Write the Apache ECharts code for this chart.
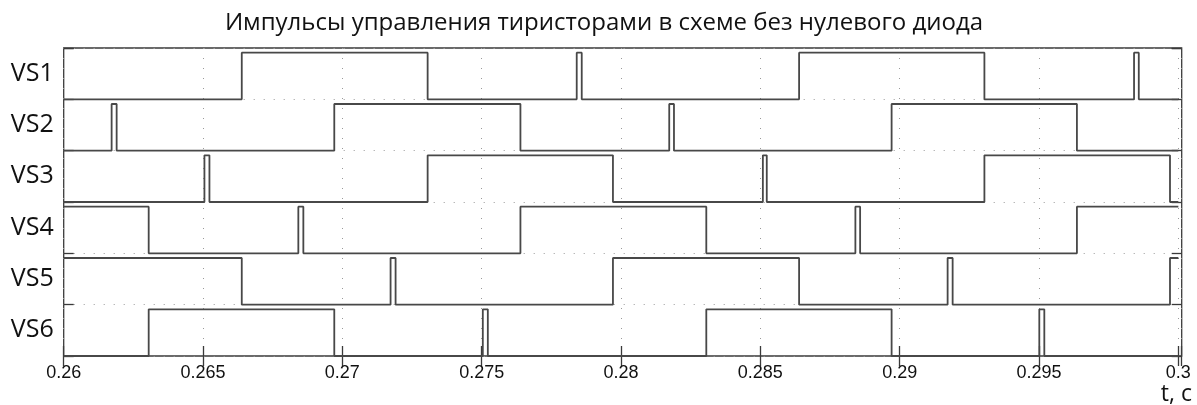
<!DOCTYPE html>
<html>
<head>
<meta charset="utf-8">
<script src="https://cdn.jsdelivr.net/npm/echarts@6/dist/echarts.min.js"></script>
<style>
  html, body { margin: 0; padding: 0; background: #fff; }
  #chart { width: 1197px; height: 405px; }
</style>
</head>
<body>
<div id="chart"></div>
<script>
// ---- data ----
const titleText = 'Импульсы управления тиристорами в схеме без нулевого диода';
const axisName = 't, c';
const seriesNames = ['VS1', 'VS2', 'VS3', 'VS4', 'VS5', 'VS6'];
const xTickLabels = ['0.26', '0.265', '0.27', '0.275', '0.28', '0.285', '0.29', '0.295', '0.3'];
const tStart = 0.26;
const tEnd = 0.3;

// initial level of each signal at t = 0.26, then the switching instants (each edge toggles the level)
const vs1Start = 0;
const vs1Edges = [0.26639, 0.27306, 0.27841, 0.27859, 0.28639, 0.29304, 0.29841, 0.29858];
const vs2Start = 0;
const vs2Edges = [0.26172, 0.26190, 0.26971, 0.27639, 0.28173, 0.28190, 0.28971, 0.29636];
const vs3Start = 0;
const vs3Edges = [0.26505, 0.26523, 0.27306, 0.27971, 0.28509, 0.28523, 0.29304, 0.29970];
const vs4Start = 1;
const vs4Edges = [0.26305, 0.26842, 0.26860, 0.27639, 0.28306, 0.28841, 0.28858, 0.29636];
const vs5Start = 1;
const vs5Edges = [0.26639, 0.27173, 0.27191, 0.27971, 0.28639, 0.29172, 0.29190, 0.29970];
const vs6Start = 0;
const vs6Edges = [0.26305, 0.26971, 0.27504, 0.27522, 0.28306, 0.28971, 0.29501, 0.29519];

const starts = [vs1Start, vs2Start, vs3Start, vs4Start, vs5Start, vs6Start];
const edges = [vs1Edges, vs2Edges, vs3Edges, vs4Edges, vs5Edges, vs6Edges];

// ---- build ----
const PANEL = 1.1;             // height of one signal lane in y units
const NP = seriesNames.length;

function buildPoints(start, es, offset) {
  let lvl = start;
  const pts = [[tStart, lvl + offset]];
  es.forEach(e => {
    pts.push([e, lvl + offset]);
    lvl = 1 - lvl;
    pts.push([e, lvl + offset]);
  });
  pts.push([tEnd, lvl + offset]);
  return pts;
}

function fitSize(text, family, target) {
  const c = document.createElement('canvas').getContext('2d');
  c.font = '100px ' + family;
  return 100 * target / c.measureText(text).width;
}

const humanist = '"Open Sans", "Noto Sans", sans-serif';
const titleSize = Math.min(24, fitSize(titleText, humanist, 762));

const xMaxAxis = 0.30012;
const dotted = { color: '#9a9a9a', width: 1, type: [1, 9] };
const frameColor = '#3a3a3a';

function xLabel(v) {
  const k = (v - tStart) / 0.005;
  const r = Math.round(k);
  return (Math.abs(k - r) < 1e-6 && r >= 0 && r < xTickLabels.length) ? xTickLabels[r] : '';
}

const series = seriesNames.map((name, i) => ({
  name: name,
  type: 'line',
  xAxisIndex: 0,
  yAxisIndex: 0,
  showSymbol: false,
  symbol: 'none',
  animation: false,
  silent: true,
  lineStyle: { color: '#484848', width: 1.8 },
  data: buildPoints(starts[i], edges[i], (NP - 1 - i) * PANEL)
}));

const chart = echarts.init(document.getElementById('chart'), null, { renderer: 'canvas' });
chart.setOption({
  animation: false,
  backgroundColor: '#ffffff',
  grid: {
    left: 63.7, right: 15.3, top: 48, bottom: 49,
    show: true, borderColor: frameColor, borderWidth: 1.3, backgroundColor: 'transparent'
  },
  xAxis: [
    {
      type: 'value', min: tStart, max: xMaxAxis, interval: 0.005,
      axisLine: { show: false },
      axisTick: { show: true, inside: true, length: 10, lineStyle: { color: frameColor, width: 1.3 } },
      axisLabel: { formatter: xLabel, fontFamily: '"Liberation Sans", Arial, sans-serif', fontSize: 18, color: '#111', margin: 8 },
      splitLine: { show: true, lineStyle: dotted }
    },
    {
      type: 'value', position: 'top', min: tStart, max: xMaxAxis, interval: 0.005,
      axisLine: { show: false },
      axisTick: { show: true, inside: true, length: 10, lineStyle: { color: frameColor, width: 1.3 } },
      axisLabel: { show: false },
      splitLine: { show: false }
    }
  ],
  yAxis: [
    {
      type: 'value', min: 0, max: NP * PANEL, interval: PANEL,
      axisLine: { show: false },
      axisTick: { show: true, inside: true, length: 10, lineStyle: { color: frameColor, width: 1.3 } },
      axisLabel: { show: false },
      splitLine: { show: true, lineStyle: dotted }
    },
    {
      type: 'value', position: 'right', min: 0, max: NP * PANEL, interval: PANEL,
      axisLine: { show: false },
      axisTick: { show: true, inside: true, length: 10, lineStyle: { color: frameColor, width: 1.3 } },
      axisLabel: { show: false },
      splitLine: { show: false }
    },
    {
      type: 'value', position: 'left', min: 0, max: NP * PANEL, interval: PANEL / 2,
      axisLine: { show: false },
      axisTick: { show: false },
      splitLine: { show: false },
      axisLabel: {
        show: true, margin: 10, fontFamily: humanist, fontSize: 25, color: '#111',
        formatter: function (v) {
          const k = Math.round(v / (PANEL / 2));
          if (k % 2 === 1) {
            const idx = NP - 1 - (k - 1) / 2;
            return seriesNames[idx] || '';
          }
          return '';
        }
      }
    }
  ],
  graphic: [
    {
      type: 'text', x: 604, y: 23, silent: true,
      style: {
        text: titleText, font: titleSize.toFixed(2) + 'px ' + humanist, fill: '#111',
        textAlign: 'center', textVerticalAlign: 'middle', align: 'center', verticalAlign: 'middle'
      }
    },
    {
      type: 'text', x: 1192, y: 394, silent: true,
      style: {
        text: axisName, font: '23px ' + humanist, fill: '#111',
        textAlign: 'right', textVerticalAlign: 'middle', align: 'right', verticalAlign: 'middle'
      }
    }
  ],
  series: series
});
</script>
</body>
</html>
